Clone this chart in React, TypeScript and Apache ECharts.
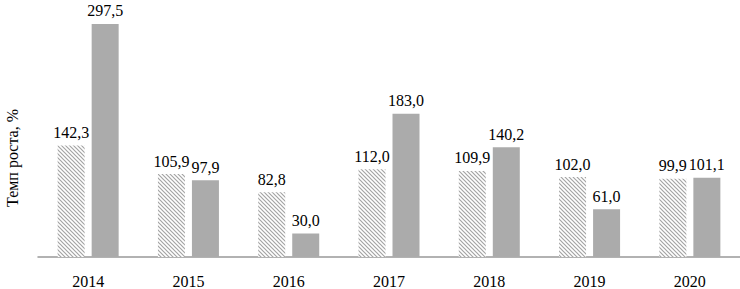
import React, { useEffect, useRef } from "react";
import * as echarts from "echarts";

const categories = ["2014", "2015", "2016", "2017", "2018", "2019", "2020"];
const seriesA = [142.3, 105.9, 82.8, 112.0, 109.9, 102.0, 99.9];
const seriesB = [297.5, 97.9, 30.0, 183.0, 140.2, 61.0, 101.1];
const yAxisTitle = "Темп роста, %";

function makeHatch() {
  const c = document.createElement("canvas");
  const s = 4;
  c.width = s;
  c.height = s;
  const ctx = c.getContext("2d")!;
  ctx.fillStyle = "#ffffff";
  ctx.fillRect(0, 0, s, s);
  ctx.strokeStyle = "#a4a4a4";
  ctx.lineWidth = 1.2;
  ctx.beginPath();
  ctx.moveTo(-1, -1);
  ctx.lineTo(s + 1, s + 1);
  ctx.moveTo(-1, s - 1);
  ctx.lineTo(1, s + 1);
  ctx.moveTo(s - 1, -1);
  ctx.lineTo(s + 1, 1);
  ctx.stroke();
  return c;
}

const fmt = (v: number) => v.toFixed(1).replace(".", ",");

export default function App() {
  const ref = useRef<HTMLDivElement>(null);
  useEffect(() => {
    const chart = echarts.init(ref.current!, undefined, { renderer: "svg" });
    const font = "'Liberation Serif', 'Times New Roman', serif";
    const label = {
      show: true,
      position: "top",
      distance: 5,
      color: "#000",
      fontFamily: font,
      fontSize: 16,
      formatter: (p: any) => fmt(p.value),
    };
    chart.setOption({
      animation: false,
      grid: { left: 38, right: 0, top: 22, bottom: 31 },
      xAxis: {
        type: "category",
        data: categories,
        axisTick: { show: false },
        axisLine: { lineStyle: { color: "#999999", width: 1.5 } },
        axisLabel: { color: "#000", fontFamily: font, fontSize: 16, margin: 16 },
      },
      yAxis: {
        type: "value",
        min: 0,
        max: 300,
        show: false,
      },
      graphic: [
        {
          type: "text",
          x: 12,
          y: 158,
          rotation: Math.PI / 2,
          style: {
            text: yAxisTitle,
            fontFamily: font,
            fontSize: 16,
            fill: "#000",
            align: "center",
            verticalAlign: "middle",
          },
        },
      ],
      series: [
        {
          type: "bar",
          data: seriesA,
          barWidth: 27,
          barGap: "26%",
          itemStyle: { color: { image: makeHatch(), repeat: "repeat" } },
          label,
        },
        {
          type: "bar",
          data: seriesB,
          barWidth: 27,
          itemStyle: { color: "#ababab" },
          label,
        },
      ],
    });
    return () => chart.dispose();
  }, []);
  return (
    <div
      ref={ref}
      style={{ position: "absolute", left: 0, top: 0, width: 740, height: 289 }}
    />
  );
}
